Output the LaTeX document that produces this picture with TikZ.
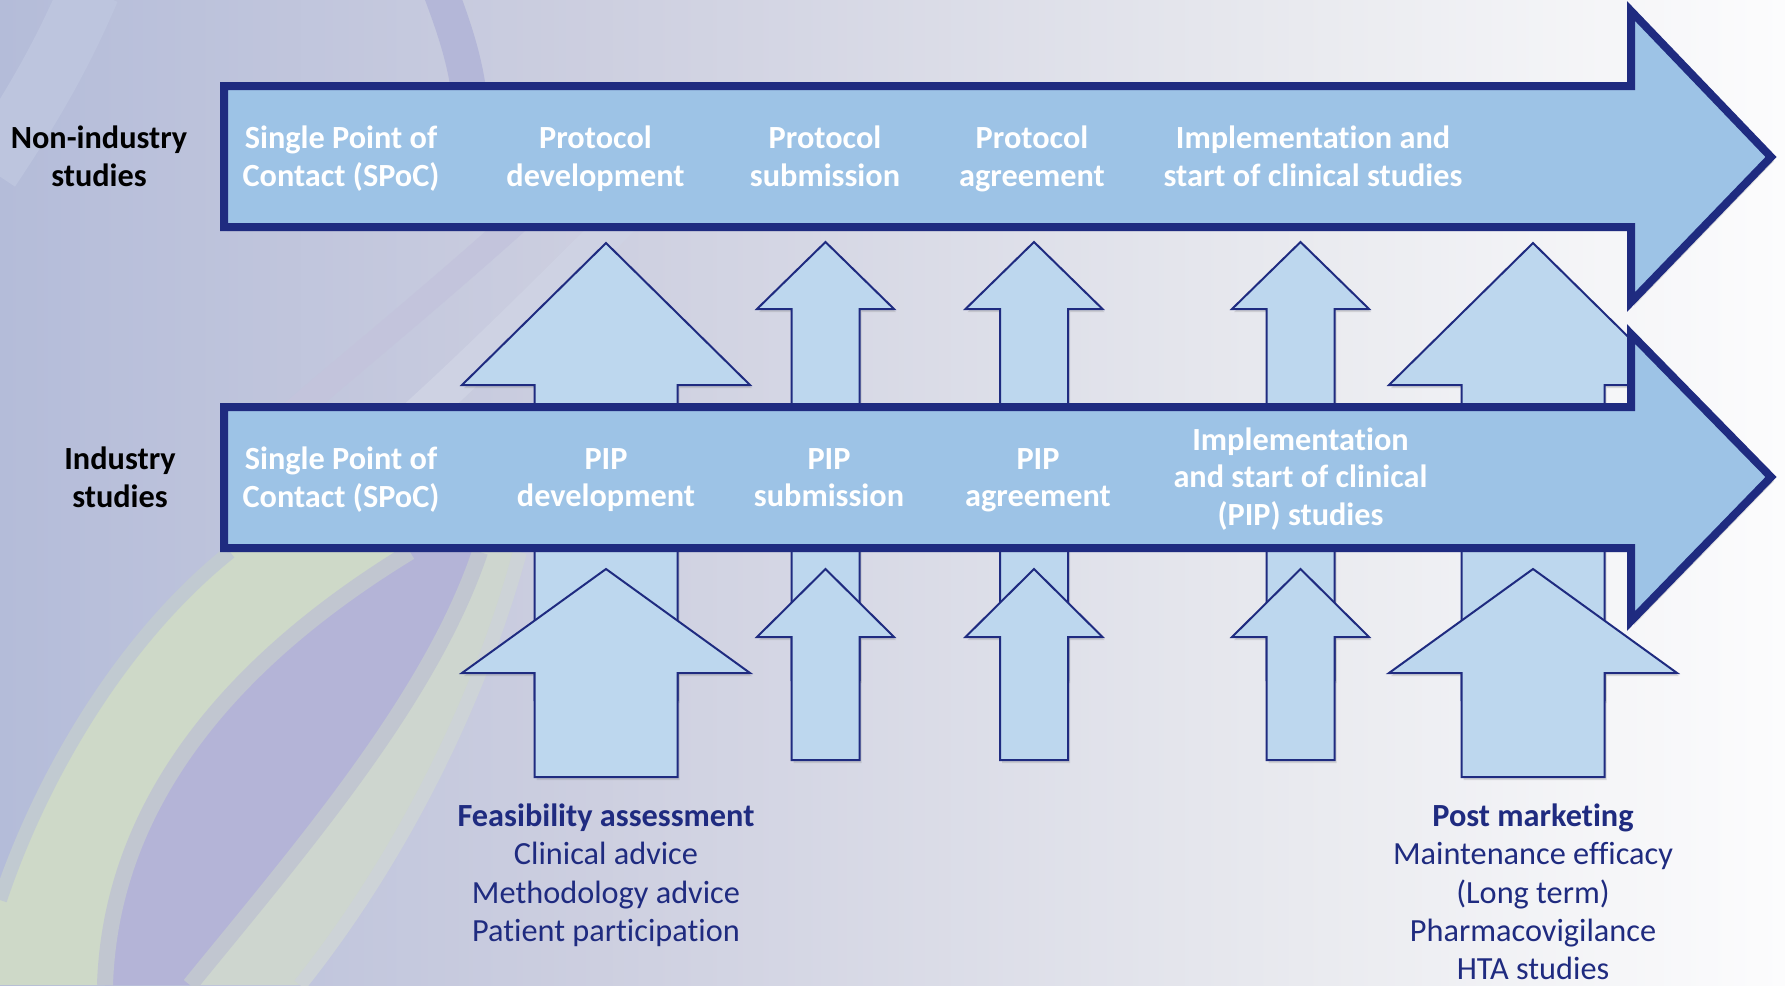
\documentclass[tikz,border=0pt]{standalone}
\usepackage{fontspec}
\setmainfont{Carlito}[Ligatures=CommonOff]
\usepackage{tikz}
\usetikzlibrary{shadows}
\definecolor{navy}{RGB}{31,43,128}
\definecolor{bandblue}{RGB}{157,195,230}
\definecolor{upblue}{RGB}{189,215,238}
\definecolor{bgA}{RGB}{180,188,217}
\definecolor{bgB}{RGB}{205,207,224}
\definecolor{bgC}{RGB}{233,234,239}
\definecolor{bgD}{RGB}{252,252,253}
\definecolor{swirlpurple}{RGB}{180,180,215}
\definecolor{swirllight}{RGB}{206,213,231}
\definecolor{swirlgreen}{RGB}{206,217,200}
\newcommand{\diagfont}{\fontsize{32.3}{37.6}\selectfont}
\newcommand{\listfont}{\fontsize{32.3}{38.4}\selectfont}

\begin{document}
\begin{tikzpicture}[x=1pt,y=1pt]
\tikzstyle{every node}+=[inner sep=0pt, align=center, font=\diagfont, execute at begin node=\strut, execute at end node=\strut]
\tikzstyle{band}=[draw=navy, line width=8pt, fill=bandblue, drop shadow={shadow xshift=3pt, shadow yshift=-4pt, opacity=0.25}]
\tikzstyle{uparrow}=[draw=navy, line width=2pt, fill=upblue, drop shadow={shadow xshift=2pt, shadow yshift=-3pt, opacity=0.25}]
\tikzstyle{bandtext}=[text=white, font=\diagfont\bfseries]
\tikzstyle{sidetext}=[text=black, font=\diagfont\bfseries]
\tikzstyle{listtext}=[text=navy, font=\listfont, anchor=north]
\useasboundingbox (0,0) rectangle (1785,-985);
% background
\shade [left color=bgA, right color=bgB] (0,0) rectangle (601,-985);
\shade [left color=bgB, right color=bgC] (600,0) rectangle (1301,-985);
\shade [left color=bgC, right color=bgD] (1300,0) rectangle (1785,-985);
\begin{scope}
\clip (0,0) rectangle (1785,-985);
\draw [swirllight!35!bgA, line width=60pt] (90,10) .. controls (60,-60) and (30,-110) .. (-10,-170);
\draw [swirlpurple!60!bgA, line width=35pt] (440,10) .. controls (455,-30) and (465,-60) .. (470,-100);
\draw [swirlpurple!40!bgB, line width=26pt] (540,-200) .. controls (430,-300) and (330,-380) .. (250,-450);
\draw [swirllight!50!bgB, line width=36pt] (640,-200) .. controls (540,-300) and (460,-380) .. (380,-450);
\fill [swirlgreen] (230,-552) -- (410,-552) .. controls (200,-680) and (110,-830) .. (105,-985) -- (0,-985) -- (0,-900) .. controls (40,-780) and (120,-640) .. (230,-552) -- cycle;
\fill [swirlpurple] (410,-552) -- (480,-552) .. controls (430,-700) and (300,-850) .. (190,-985) -- (105,-985) .. controls (110,-830) and (200,-680) .. (410,-552) -- cycle;
\fill [swirlgreen!70!bgB] (480,-552) -- (520,-552) .. controls (480,-700) and (400,-860) .. (300,-985) -- (190,-985) .. controls (300,-850) and (430,-700) .. (480,-552) -- cycle;
\draw [swirlgreen!50!bgA, line width=14pt] (0,-900) .. controls (40,-780) and (120,-640) .. (230,-552);
\draw [swirlgreen!50!swirlpurple, line width=16pt] (410,-552) .. controls (200,-680) and (110,-830) .. (105,-985);
\draw [swirlgreen!50!swirlpurple, line width=16pt] (480,-552) .. controls (430,-700) and (300,-850) .. (190,-985);
\draw [swirlgreen!35!bgB, line width=14pt] (520,-552) .. controls (480,-700) and (400,-860) .. (300,-985);
\end{scope}
% arrows between the bands
\draw [uparrow] (606,-243) -- (750,-385) -- (677.5,-385) -- (677.5,-700) -- (534.5,-700) -- (534.5,-385) -- (462,-385) -- cycle;
\draw [uparrow] (825.5,-242) -- (894,-309) -- (859.5,-309) -- (859.5,-680) -- (791.5,-680) -- (791.5,-309) -- (757,-309) -- cycle;
\draw [uparrow] (1034,-242) -- (1102.5,-309) -- (1068,-309) -- (1068,-680) -- (1000,-680) -- (1000,-309) -- (965.5,-309) -- cycle;
\draw [uparrow] (1300.5,-242) -- (1369,-309) -- (1334.5,-309) -- (1334.5,-680) -- (1266.5,-680) -- (1266.5,-309) -- (1232,-309) -- cycle;
\draw [uparrow] (1533,-243) -- (1677,-385) -- (1604.5,-385) -- (1604.5,-700) -- (1461.5,-700) -- (1461.5,-385) -- (1389,-385) -- cycle;
% arrows below
\draw [uparrow] (606,-569) -- (750,-673) -- (677.5,-673) -- (677.5,-777) -- (534.5,-777) -- (534.5,-673) -- (462,-673) -- cycle;
\draw [uparrow] (825.5,-569) -- (894,-637) -- (859.5,-637) -- (859.5,-760) -- (791.5,-760) -- (791.5,-637) -- (757,-637) -- cycle;
\draw [uparrow] (1034,-569) -- (1102.5,-637) -- (1068,-637) -- (1068,-760) -- (1000,-760) -- (1000,-637) -- (965.5,-637) -- cycle;
\draw [uparrow] (1300.5,-569) -- (1369,-637) -- (1334.5,-637) -- (1334.5,-760) -- (1266.5,-760) -- (1266.5,-637) -- (1232,-637) -- cycle;
\draw [uparrow] (1533,-569) -- (1677,-673) -- (1604.5,-673) -- (1604.5,-777) -- (1461.5,-777) -- (1461.5,-673) -- (1389,-673) -- cycle;
% the two bands
\draw [band] (224,-86) -- (1631,-86) -- (1631,-11) -- (1771,-157) -- (1631,-302) -- (1631,-227) -- (224,-227) -- cycle;
\draw [band] (224,-407) -- (1631,-407) -- (1631,-334) -- (1771,-477) -- (1631,-621) -- (1631,-548) -- (224,-548) -- cycle;
\node [sidetext] (nonind) at (99,-162) {Non-industry\\studies};
\node [sidetext] (ind) at (120,-483) {Industry\\studies};
\node [bandtext] (spoc1) at (341,-162) {Single Point of\\Contact (SPoC)};
\node [bandtext] (protdev) at (595.5,-162) {Protocol\\development};
\node [bandtext] (protsub) at (825,-162) {Protocol\\submission};
\node [bandtext] (protagr) at (1032,-162) {Protocol\\agreement};
\node [bandtext] (impl1) at (1313,-162) {Implementation and\\start of clinical studies};
\node [bandtext] (spoc2) at (341,-483) {Single Point of\\Contact (SPoC)};
\node [bandtext] (pipdev) at (606,-483) {PIP\\development};
\node [bandtext] (pipsub) at (829,-483) {PIP\\submission};
\node [bandtext] (pipagr) at (1038,-483) {PIP\\agreement};
\node [bandtext] (impl2) at (1300.5,-482) {Implementation\\and start of clinical\\(PIP) studies};
\node [listtext] (feas) at (606,-803.5) {\textbf{Feasibility assessment}\\Clinical advice\\Methodology advice\\Patient participation};
\node [listtext] (post) at (1533,-803.5) {\textbf{Post marketing}\\Maintenance efficacy\\(Long term)\\Pharmacovigilance\\HTA studies};
\end{tikzpicture}
\end{document}
